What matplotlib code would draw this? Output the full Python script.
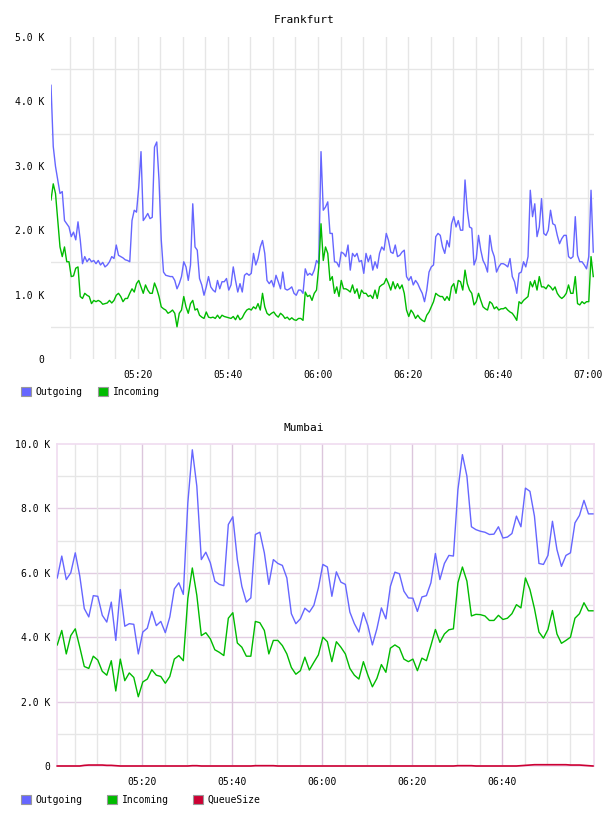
import matplotlib
matplotlib.use("Agg")
import matplotlib.pyplot as plt
from matplotlib.patches import Patch
from matplotlib.ticker import FuncFormatter, MultipleLocator, FixedLocator
import numpy as np

# Frankfurt: samples every 30 s starting 05:00:40 (values in K)
fra_start = 0.67   # minutes after 05:00
fra_step = 0.5
fra_out = [
    4.25, 3.3, 2.99, 2.78, 2.57, 2.6, 2.15, 2.1, 2.05, 1.9, 1.97, 1.85, 2.13, 1.85, 1.48, 1.59,
    1.51, 1.56, 1.51, 1.53, 1.48, 1.53, 1.46, 1.5, 1.43, 1.46, 1.51, 1.59, 1.56, 1.77, 1.61, 1.59,
    1.57, 1.54, 1.53, 1.51, 2.15, 2.31, 2.28, 2.67, 3.22, 2.15, 2.2, 2.26, 2.18, 2.2, 3.29, 3.37,
    2.78, 1.85, 1.35, 1.3, 1.29, 1.28, 1.28, 1.22, 1.09, 1.17, 1.28, 1.51, 1.43,
    1.22, 1.46, 2.41, 1.74, 1.69, 1.25, 1.15, 0.99, 1.12, 1.28, 1.12, 1.07, 1.04, 1.22, 1.09, 1.2,
    1.2, 1.25, 1.07, 1.15, 1.43, 1.22, 1.04, 1.17, 1.04, 1.3, 1.33, 1.3, 1.33, 1.64, 1.46, 1.56,
    1.74, 1.84, 1.64, 1.22, 1.17, 1.22, 1.12, 1.3, 1.2, 1.09, 1.35, 1.09, 1.07, 1.09, 1.12, 1.02,
    0.99, 1.07, 1.07, 1.02, 1.4, 1.3, 1.33, 1.3, 1.38, 1.53, 1.48, 3.22,
    2.31, 2.36, 2.44, 1.95, 1.95, 1.51, 1.5, 1.43, 1.66, 1.64, 1.59, 1.77, 1.38, 1.64, 1.59, 1.64,
    1.51, 1.53, 1.33, 1.64, 1.51, 1.61, 1.38, 1.51, 1.41, 1.64, 1.74, 1.69, 1.95, 1.84, 1.66, 1.64,
    1.77, 1.59, 1.61, 1.66, 1.69, 1.28, 1.22, 1.28, 1.15, 1.22, 1.17, 1.09, 1.02, 0.89, 1.07, 1.35,
    1.43, 1.46, 1.9, 1.95, 1.92, 1.74, 1.64, 1.84, 1.74, 2.1, 2.21, 2.05, 2.15, 2.0,
    2.0, 2.78, 2.31, 2.05, 2.03, 1.46, 1.56, 1.92, 1.69, 1.53, 1.46, 1.35, 1.92, 1.69, 1.59, 1.35,
    1.43, 1.48, 1.48, 1.46, 1.43, 1.56, 1.28, 1.2, 1.02, 1.33, 1.35, 1.51, 1.43, 1.59, 2.62, 2.21,
    2.41, 1.9, 2.05, 2.49, 1.95, 1.92, 2.0, 2.31, 2.1, 2.08, 1.92, 1.79, 1.87, 1.92, 1.92, 1.59,
    1.56, 1.59, 2.21, 1.61, 1.51, 1.51, 1.46, 1.4, 1.59, 2.62, 1.66,
]
fra_in = [
    2.47, 2.72, 2.57, 2.15, 1.74, 1.59, 1.74, 1.51, 1.51, 1.28, 1.29, 1.41, 1.43, 0.97, 0.94, 1.02,
    0.99, 0.97, 0.86, 0.91, 0.89, 0.91, 0.89, 0.85, 0.86, 0.87, 0.91, 0.87, 0.91, 0.99, 1.02, 0.97,
    0.89, 0.94, 0.94, 1.02, 1.09, 1.04, 1.17, 1.22, 1.12, 1.02, 1.15, 1.07, 1.02, 1.02, 1.18, 1.09,
    0.97, 0.81, 0.78, 0.76, 0.71, 0.73, 0.76, 0.71, 0.5, 0.71, 0.76, 0.97, 0.81,
    0.71, 0.86, 0.91, 0.76, 0.78, 0.68, 0.65, 0.63, 0.73, 0.65, 0.64, 0.65, 0.63, 0.68, 0.63, 0.68,
    0.66, 0.65, 0.64, 0.63, 0.66, 0.61, 0.68, 0.61, 0.64, 0.71, 0.76, 0.78, 0.76, 0.81, 0.78, 0.86,
    0.76, 1.02, 0.81, 0.71, 0.68, 0.71, 0.73, 0.68, 0.65, 0.71, 0.68, 0.63, 0.65, 0.61, 0.64, 0.61,
    0.6, 0.63, 0.63, 0.6, 1.04, 0.97, 0.99, 0.91, 1.02, 1.07, 1.43, 2.1,
    1.53, 1.74, 1.64, 1.22, 1.28, 1.02, 1.12, 0.97, 1.22, 1.09, 1.09, 1.07, 1.04, 1.15, 1.02, 1.09,
    0.94, 1.07, 1.02, 1.02, 0.97, 0.99, 0.94, 1.07, 0.94, 1.12, 1.15, 1.17, 1.25, 1.17, 1.07, 1.2,
    1.09, 1.17, 1.09, 1.15, 1.02, 0.76, 0.66, 0.76, 0.71, 0.63, 0.68, 0.63, 0.6, 0.58, 0.68, 0.73,
    0.81, 0.89, 1.02, 0.99, 0.97, 0.97, 0.91, 0.97, 0.91, 1.12, 1.17, 1.02, 1.22, 1.2,
    1.07, 1.38, 1.17, 1.07, 1.02, 0.84, 0.89, 1.02, 0.91, 0.81, 0.78, 0.76, 0.89, 0.86, 0.78, 0.81,
    0.76, 0.78, 0.78, 0.8, 0.76, 0.73, 0.71, 0.66, 0.6, 0.89, 0.86, 0.91, 0.94, 0.97, 1.2, 1.12,
    1.22, 1.07, 1.28, 1.12, 1.12, 1.09, 1.15, 1.12, 1.07, 1.12, 1.02, 0.97, 0.94, 0.97, 1.02, 1.15,
    1.02, 1.02, 1.28, 0.86, 0.84, 0.89, 0.86, 0.89, 0.89, 1.59, 1.28,
]

# Mumbai: one sample per minute starting 05:01:10 (values in K)
mum_start = 1.17
mum_step = 1.0
mum_out = [
    5.84, 6.52, 5.79, 6.0, 6.62, 5.9, 4.89, 4.63, 5.29, 5.27, 4.68, 4.47, 5.09, 3.9, 5.48, 4.34,
    4.42, 4.4, 3.48, 4.16, 4.28, 4.8, 4.36, 4.49, 4.14, 4.63, 5.5, 5.69, 5.33, 8.17, 9.82, 8.69,
    6.41, 6.64, 6.31, 5.74, 5.64, 5.6, 7.5, 7.74, 6.41, 5.58, 5.09, 5.22, 7.19, 7.26, 6.62, 5.64,
    6.41, 6.29, 6.23, 5.84, 4.73, 4.42, 4.57, 4.9, 4.78, 4.99, 5.53, 6.26, 6.18, 5.27, 6.03, 5.71,
    5.64, 4.78, 4.42, 4.16, 4.76, 4.36, 3.76, 4.26, 4.91, 4.57, 5.58, 6.02, 5.97, 5.43, 5.22, 5.21,
    4.8, 5.25, 5.29, 5.69, 6.6, 5.79, 6.29, 6.54, 6.52, 8.58, 9.67, 9.0, 7.43, 7.34, 7.29, 7.26,
    7.19, 7.2, 7.43, 7.08, 7.11, 7.22, 7.76, 7.43, 8.63, 8.53, 7.76, 6.29, 6.26, 6.54, 7.6, 6.72,
    6.2, 6.54, 6.62, 7.55, 7.78, 8.25, 7.83, 7.83,
]
mum_in = [
    3.76, 4.21, 3.48, 4.05, 4.26, 3.69, 3.09, 3.03, 3.41, 3.29, 2.94, 2.82, 3.27, 2.33, 3.32, 2.65,
    2.89, 2.75, 2.15, 2.61, 2.7, 2.99, 2.82, 2.78, 2.57, 2.78, 3.32, 3.43, 3.27, 5.2, 6.15, 5.3,
    4.05, 4.14, 3.95, 3.61, 3.53, 3.43, 4.59, 4.76, 3.82, 3.69, 3.41, 3.41, 4.49, 4.45, 4.21, 3.48,
    3.9, 3.9, 3.74, 3.48, 3.06, 2.85, 2.96, 3.38, 2.98, 3.22, 3.45, 4.0, 3.86, 3.24, 3.86, 3.69,
    3.48, 3.03, 2.82, 2.7, 3.24, 2.82, 2.46, 2.72, 3.15, 2.91, 3.66, 3.76, 3.67, 3.32, 3.24, 3.32,
    2.96, 3.35, 3.27, 3.74, 4.24, 3.84, 4.1, 4.23, 4.26, 5.69, 6.18, 5.74, 4.66, 4.71, 4.7, 4.66,
    4.52, 4.52, 4.68, 4.55, 4.59, 4.73, 5.01, 4.91, 5.84, 5.48, 4.89, 4.16, 3.97, 4.24, 4.83, 4.1,
    3.81, 3.9, 4.0, 4.59, 4.73, 5.07, 4.82, 4.82,
]
mum_queue = [
    0, 0, 0, 0, 0, 0, 0.02, 0.03, 0.03, 0.03, 0.03, 0.02, 0.02, 0.01, 0, 0,
    0, 0, 0, 0, 0, 0, 0, 0, 0, 0, 0, 0, 0, 0, 0.01, 0.01,
    0, 0, 0, 0, 0, 0, 0, 0, 0, 0, 0, 0, 0.01, 0.01, 0.01, 0.01,
    0.01, 0, 0, 0, 0, 0, 0, 0, 0, 0, 0, 0, 0, 0, 0, 0,
    0, 0, 0, 0, 0, 0, 0, 0, 0, 0, 0, 0, 0, 0, 0, 0,
    0, 0, 0, 0, 0, 0, 0, 0, 0, 0.01, 0.01, 0.01, 0.01, 0, 0, 0,
    0, 0, 0, 0, 0, 0, 0, 0.01, 0.02, 0.03, 0.04, 0.04, 0.04, 0.04, 0.04, 0.04,
    0.04, 0.04, 0.03, 0.03, 0.03, 0.02, 0.01, 0.0,
]
mum_ticks = [20, 40, 60, 80, 100]

c_out = "#6666ff"
c_in = "#00bb00"
c_q = "#cc0033"
mono = "DejaVu Sans Mono"

fra_t = fra_start + fra_step * np.arange(len(fra_out))
mum_t = mum_start + mum_step * np.arange(len(mum_out))


def fmt_k(v, pos):
    if abs(v) < 1e-9:
        return "0"
    return "%.1f K" % v


def fmt_time(m, pos):
    m = int(round(m))
    return "%02d:%02d" % (5 + m // 60, m % 60)


fig = plt.figure(figsize=(6.08, 8.16), dpi=100)

# ---- Frankfurt
ax1 = fig.add_axes([51 / 608, 1 - 359 / 816, 543 / 608, 322 / 816])
ax1.plot(fra_t, fra_out, color=c_out, lw=1.0, zorder=3)
ax1.plot(fra_t, fra_in, color=c_in, lw=1.0, zorder=3)
ax1.set_xlim(0.67, 121.33)
ax1.set_ylim(0, 5)
ax1.yaxis.set_major_locator(MultipleLocator(1))
ax1.xaxis.set_major_locator(MultipleLocator(20))
ax1.yaxis.set_major_formatter(FuncFormatter(fmt_k))
ax1.xaxis.set_major_formatter(FuncFormatter(fmt_time))
for v in np.arange(0.5, 5, 1.0):
    ax1.axhline(v, color="#e6e6e6", lw=1.0, zorder=1)
for m in np.arange(5, 125, 5):
    ax1.axvline(m, color="#e6e6e6", lw=1.0, zorder=1)
for s in ax1.spines.values():
    s.set_visible(False)
ax1.tick_params(which="both", length=0, labelsize=7, pad=5)
ax1.tick_params(axis="x", pad=8)
for lab in ax1.get_xticklabels() + ax1.get_yticklabels():
    lab.set_fontfamily(mono)
fig.text(0.5, 1 - 20 / 816, "Frankfurt", ha="center", va="center", fontsize=8, family=mono)

fig.legend(handles=[Patch(facecolor=c_out, edgecolor="#999999", lw=0.8),
                    Patch(facecolor=c_in, edgecolor="#999999", lw=0.8)],
           labels=["Outgoing", "Incoming"], loc="center left",
           bbox_to_anchor=(0.035, 1 - 392 / 816), ncol=2, frameon=False,
           handlelength=1.0, handleheight=1.0, handletextpad=0.5, columnspacing=1.6,
           borderpad=0, borderaxespad=0, prop={"family": mono, "size": 7})

# ---- Mumbai
ax2 = fig.add_axes([57 / 608, 1 - 766 / 816, 537 / 608, 322 / 816])
ax2.plot(mum_t, mum_out, color=c_out, lw=1.0, zorder=3)
ax2.plot(mum_t, mum_in, color=c_in, lw=1.0, zorder=3)
ax2.plot(mum_t, mum_queue, color=c_q, lw=1.2, zorder=4, clip_on=False)
ax2.set_xlim(1.11, 120.4)
ax2.set_ylim(0, 10)
ax2.yaxis.set_major_locator(MultipleLocator(2))
ax2.xaxis.set_major_locator(FixedLocator(mum_ticks))
ax2.yaxis.set_major_formatter(FuncFormatter(fmt_k))
ax2.xaxis.set_major_formatter(FuncFormatter(fmt_time))
for v in range(1, 10):
    ax2.axhline(v, color="#e2cde2" if v % 2 == 0 else "#e6e6e6", lw=1.0, zorder=1)
for m in range(5, 120, 5):
    ax2.axvline(m, color="#dcc6dc" if m % 20 == 0 else "#e6e6e6", lw=1.0, zorder=1)
for s in ax2.spines.values():
    s.set_color("#f0dcf0")
    s.set_linewidth(1.2)
ax2.tick_params(which="both", length=0, labelsize=7, pad=5)
ax2.tick_params(axis="x", pad=8)
for lab in ax2.get_xticklabels() + ax2.get_yticklabels():
    lab.set_fontfamily(mono)
fig.text(0.5, 1 - 428 / 816, "Mumbai", ha="center", va="center", fontsize=8, family=mono)

fig.legend(handles=[Patch(facecolor=c_out, edgecolor="#999999", lw=0.8),
                    Patch(facecolor=c_in, edgecolor="#999999", lw=0.8),
                    Patch(facecolor=c_q, edgecolor="#999999", lw=0.8)],
           labels=["Outgoing", "Incoming", "QueueSize"], loc="center left",
           bbox_to_anchor=(0.035, 1 - 800 / 816), ncol=3, frameon=False,
           handlelength=1.0, handleheight=1.0, handletextpad=0.5, columnspacing=2.5,
           borderpad=0, borderaxespad=0, prop={"family": mono, "size": 7})

fig.savefig("out.png", dpi=100)
